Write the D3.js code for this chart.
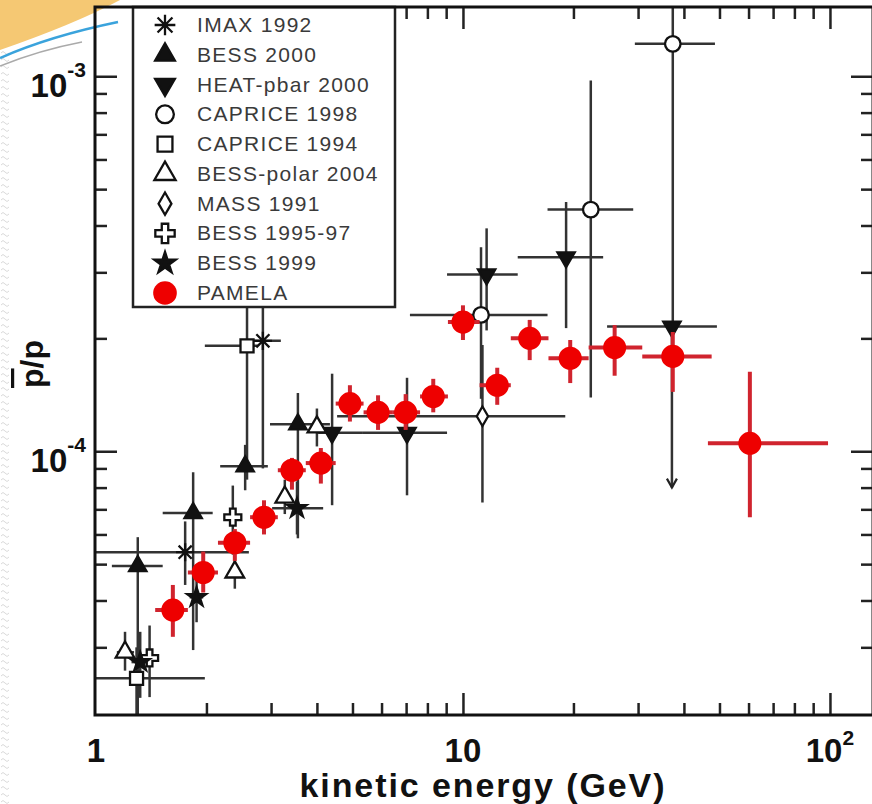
<!DOCTYPE html>
<html><head><meta charset="utf-8">
<script src="https://cdn.jsdelivr.net/npm/d3@7"></script>
<style>
html,body{margin:0;padding:0;background:#fff;}
svg{display:block;font-family:"Liberation Sans",Arial,Helvetica,sans-serif;}
</style></head><body>
<svg id="chart" width="872" height="804"></svg>
<script>
// each point: [E (GeV), pbar/p, E low, E high, ratio low, ratio high]
var imax = [[1.75,5.38e-5,1.0,2.61,4.4e-5,6.5e-5],[2.85,1.97e-4,2.61,3.19,9.0e-5,3.3e-4]];
var bess2000 = [[1.30,4.94e-5,1.105,1.52,1.5e-5,5.9e-5],[1.84,6.84e-5,1.52,2.08,2.95e-5,8.79e-5],
  [2.55,9.12e-5,2.18,2.94,7.87e-5,1.04e-4],[3.55,1.18e-4,2.98,4.34,5.86e-5,1.43e-4]];
var heat = [[4.40,1.12e-4,4.03,5.31,7.18e-5,1.61e-4],[7.04,1.12e-4,5.31,9.05,7.63e-5,1.57e-4],
  [11.6,2.96e-4,9.05,14.1,2.10e-4,3.93e-4],[19.1,3.29e-4,14.1,24.1,2.13e-4,4.62e-4]];
var heatLimit = [[37.1,2.15e-4,24.7,49.2,8.0e-5,2.15e-4]];   // drawn with a downward arrow
var caprice98 = [[11.2,2.31e-4,7.17,17.0,1.38e-4,3.50e-4],[22.3,4.41e-4,17.0,29.1,1.39e-4,9.75e-4],
  [37.3,1.22e-3,29.4,48.6,2.10e-4,2.5e-3]];
var caprice94 = [[1.29,2.48e-5,0.96,1.98,1.5e-5,3.0e-5],[2.58,1.91e-4,1.98,2.76,8.4e-5,3.3e-4]];
var bessPolar = [[1.20,2.91e-5,1.14,1.27,2.6e-5,3.3e-5],[2.39,4.76e-5,2.30,2.48,4.3e-5,5.3e-5],
  [3.27,7.54e-5,3.15,3.40,6.8e-5,8.4e-5],[4.00,1.16e-4,3.85,4.15,1.03e-4,1.30e-4]];
var mass91 = [[11.3,1.24e-4,4.54,19.0,7.3e-5,1.92e-4]];
var bess9597 = [[1.40,2.81e-5,1.33,1.48,2.21e-5,3.43e-5],[2.36,6.67e-5,2.25,2.47,5.3e-5,8.1e-5]];
var bess99 = [[1.32,2.74e-5,1.25,1.39,2.2e-5,3.3e-5],[1.88,4.08e-5,1.80,1.96,3.5e-5,4.8e-5],
  [3.53,7.05e-5,3.02,4.16,6.0e-5,8.3e-5]];
var pamela = [[1.62,3.77e-5,1.45,1.78,3.2e-5,4.4e-5],[1.96,4.75e-5,1.78,2.15,4.2e-5,5.4e-5],
  [2.39,5.7e-5,2.15,2.63,5.1e-5,6.2e-5],[2.87,6.67e-5,2.63,3.13,6.0e-5,7.4e-5],
  [3.42,8.9e-5,3.13,3.73,7.9e-5,9.6e-5],[4.10,9.3e-5,3.73,4.50,8.2e-5,1.02e-4],
  [4.92,1.34e-4,4.50,5.36,1.20e-4,1.50e-4],[5.87,1.27e-4,5.36,6.41,1.14e-4,1.41e-4],
  [6.98,1.27e-4,6.41,7.64,1.14e-4,1.42e-4],[8.30,1.40e-4,7.64,9.10,1.27e-4,1.56e-4],
  [10.0,2.21e-4,9.10,11.1,1.98e-4,2.45e-4],[12.4,1.50e-4,11.1,13.5,1.33e-4,1.67e-4],
  [15.2,2.00e-4,13.5,17.1,1.75e-4,2.24e-4],[19.6,1.77e-4,17.1,22.0,1.52e-4,1.98e-4],
  [25.9,1.89e-4,22.0,30.8,1.59e-4,2.17e-4],[37.3,1.79e-4,30.8,47.6,1.44e-4,2.08e-4],
  [60.5,1.05e-4,46.5,98.8,6.67e-5,1.63e-4]];

var legendLabels = ["IMAX 1992","BESS 2000","HEAT-pbar 2000","CAPRICE 1998","CAPRICE 1994",
  "BESS-polar 2004","MASS 1991","BESS 1995-97","BESS 1999","PAMELA"];
var xMajor = [1, 10, 100];
var xMinor = [2,3,4,5,6,7,8,9,20,30,40,50,60,70,80,90];
var yMajor = [1e-4, 1e-3];
var yMinor = [3e-5,4e-5,5e-5,6e-5,7e-5,8e-5,9e-5,2e-4,3e-4,4e-4,5e-4,6e-4,7e-4,8e-4,9e-4];

var pL = 95, pR = 873, pT = 7, pB = 715;
var x = d3.scaleLog().domain([0.994, 131]).range([pL, pR]);
var y = d3.scaleLog().domain([1.98e-5, 1.53e-3]).range([pB, pT]);

var svg = d3.select("#chart");

// slide decoration (top-left corner of the original slide)
var pat = svg.append("defs").append("pattern").attr("id", "squig")
  .attr("width", 10).attr("height", 7).attr("patternUnits", "userSpaceOnUse");
pat.append("path").attr("d", "M1,4 q2,-3 4,0 t4,0").attr("fill", "none")
  .attr("stroke", "#cfcfcf").attr("stroke-width", 0.8);
svg.append("rect").attr("x", 0).attr("y", 48).attr("width", 9).attr("height", 756).attr("fill", "url(#squig)");
svg.append("path").attr("d", "M0,0 L120,0 Q75,24 0,50 Z").attr("fill", "#f5c873");
svg.append("path").attr("d", "M0,58 Q50,36 118,22").attr("fill", "none").attr("stroke", "#3aa3dc").attr("stroke-width", 2.5);
svg.append("path").attr("d", "M0,66 Q40,50 82,42").attr("fill", "none").attr("stroke", "#aaa").attr("stroke-width", 1.5);

svg.append("clipPath").attr("id", "plotclip").append("rect")
  .attr("x", pL).attr("y", pT).attr("width", pR - pL).attr("height", pB - pT);

// axes with inward ticks on all four sides
function ticks(axis, at, size) {
  var g = svg.append("g").attr("transform", at)
    .call(axis.tickSize(size).tickFormat(""));
  g.select(".domain").remove();
  g.selectAll("line").attr("stroke", "#222").attr("stroke-width", 2.5);
}
ticks(d3.axisTop(x).tickValues(xMajor.filter(v => v > 1)), "translate(0," + pB + ")", 22);
ticks(d3.axisTop(x).tickValues(xMinor), "translate(0," + pB + ")", 12);
ticks(d3.axisBottom(x).tickValues(xMajor.filter(v => v > 1)), "translate(0," + pT + ")", 22);
ticks(d3.axisBottom(x).tickValues(xMinor), "translate(0," + pT + ")", 12);
ticks(d3.axisRight(y).tickValues(yMajor), "translate(" + pL + ",0)", 22);
ticks(d3.axisRight(y).tickValues(yMinor), "translate(" + pL + ",0)", 12);
ticks(d3.axisLeft(y).tickValues(yMajor), "translate(" + pR + ",0)", 22);
ticks(d3.axisLeft(y).tickValues(yMinor), "translate(" + pR + ",0)", 12);

// tick labels
var xl = svg.append("g").attr("font-weight", "bold").attr("font-size", 33).attr("fill", "#111")
  .attr("text-anchor", "middle");
xMajor.forEach(function(v) {
  var t = xl.append("text").attr("x", x(v)).attr("y", 762);
  var e = Math.round(Math.log10(v));
  if (e < 2) t.text(String(v));
  else { t.append("tspan").text("10"); t.append("tspan").attr("dy", -17).attr("font-size", 21).text(e); }
});
var yl = svg.append("g").attr("font-weight", "bold").attr("font-size", 33).attr("fill", "#111")
  .attr("text-anchor", "end");
yMajor.forEach(function(v) {
  var t = yl.append("text").attr("x", 86).attr("y", y(v) + 21);
  t.append("tspan").text("10");
  t.append("tspan").attr("dy", -20).attr("font-size", 21).text(Math.round(Math.log10(v)));
});

svg.append("text").attr("x", 482).attr("y", 797).attr("text-anchor", "middle")
  .attr("font-weight", "bold").attr("font-size", 34).attr("fill", "#111")
  .attr("textLength", 365).attr("lengthAdjust", "spacing").text("kinetic energy (GeV)");
var yt = svg.append("text").attr("transform", "translate(43,364) rotate(-90)")
  .attr("text-anchor", "middle").attr("font-weight", "bold").attr("font-size", 32).attr("fill", "#111");
yt.append("tspan").style("text-decoration", "overline").text("p");
yt.append("tspan").text("/p");

// marker shapes
var asterisk = {draw: function(ctx, size) {
  var r = Math.sqrt(size) / 2, d = r * 0.72;
  ctx.moveTo(-r, 0); ctx.lineTo(r, 0); ctx.moveTo(0, -r); ctx.lineTo(0, r);
  ctx.moveTo(-d, -d); ctx.lineTo(d, d); ctx.moveTo(-d, d); ctx.lineTo(d, -d);
}};
var series = [
  {data: imax, type: asterisk, size: 330, fill: "none", rot: 0},
  {data: bess2000, type: d3.symbolTriangle, size: 130, fill: "#111", rot: 0},
  {data: heat, type: d3.symbolTriangle, size: 130, fill: "#111", rot: 180},
  {data: caprice98, type: d3.symbolCircle, size: 190, fill: "#fff", rot: 0},
  {data: caprice94, type: d3.symbolSquare, size: 170, fill: "#fff", rot: 0},
  {data: bessPolar, type: d3.symbolTriangle, size: 150, fill: "#fff", rot: 0},
  {data: mass91, type: d3.symbolDiamond, size: 110, fill: "#fff", rot: 0},
  {data: bess9597, type: d3.symbolCross, size: 160, fill: "#fff", rot: 0},
  {data: bess99, type: d3.symbolStar, size: 110, fill: "#111", rot: 0},
  {data: pamela, type: d3.symbolCircle, size: 420, fill: "#ee0000", rot: 0, red: true}
];

var plot = svg.append("g").attr("clip-path", "url(#plotclip)");

function drawBars(g, data, color, width) {
  var b = g.append("g").attr("stroke", color).attr("stroke-width", width);
  b.selectAll(null).data(data).join("line")
    .attr("x1", d => x(d[2])).attr("x2", d => x(d[3])).attr("y1", d => y(d[1])).attr("y2", d => y(d[1]));
  b.selectAll(null).data(data).join("line")
    .attr("x1", d => x(d[0])).attr("x2", d => x(d[0])).attr("y1", d => y(d[4])).attr("y2", d => y(d[5]));
}
function drawMarks(g, s, data) {
  g.selectAll(null).data(data).join("path")
    .attr("transform", d => "translate(" + x(d[0]) + "," + y(d[1]) + ") rotate(" + s.rot + ")")
    .attr("d", d3.symbol().type(s.type).size(s.size))
    .attr("fill", s.fill)
    .attr("stroke", s.red ? "none" : "#111")
    .attr("stroke-width", 2.3);
}

// black data sets first, PAMELA on top
var black = plot.append("g");
series.filter(s => !s.red).forEach(s => drawBars(black, s.data, "#333", 2.5));
drawBars(black, heatLimit, "#333", 2.5);
black.selectAll(null).data(heatLimit).join("path")
  .attr("d", d => "M" + (x(d[0]) - 5) + "," + (y(d[4]) - 9) + "L" + x(d[0]) + "," + y(d[4]) +
    "L" + (x(d[0]) + 5) + "," + (y(d[4]) - 9))
  .attr("fill", "none").attr("stroke", "#222").attr("stroke-width", 2.2);
series.filter(s => !s.red).forEach(s => drawMarks(black, s, s.data));
drawMarks(black, series[2], heatLimit);

var red = plot.append("g");
drawBars(red, pamela, "#d0242e", 4);
drawMarks(red, series[9], pamela);

// legend
var lg = svg.append("g");
lg.append("rect").attr("x", 133).attr("y", pT).attr("width", 262).attr("height", 300)
  .attr("fill", "#fff").attr("stroke", "#222").attr("stroke-width", 2.5);
var rowY = d3.scaleLinear().domain([0, legendLabels.length - 1]).range([25, 293]);
legendLabels.forEach(function(label, i) {
  var s = series[i];
  lg.append("path").attr("transform", "translate(165," + rowY(i) + ") rotate(" + s.rot + ")")
    .attr("d", d3.symbol().type(s.type).size(s.red ? 440 : s.size * 1.3)())
    .attr("fill", s.fill).attr("stroke", s.red ? "none" : "#111").attr("stroke-width", 2.3);
  lg.append("text").attr("x", 197).attr("y", rowY(i) + 7).attr("font-size", 21)
    .attr("letter-spacing", 1.3).attr("fill", "#3a3a3a").text(label);
});

// frame
svg.append("rect").attr("x", pL).attr("y", pT).attr("width", pR - pL).attr("height", pB - pT)
  .attr("fill", "none").attr("stroke", "#111").attr("stroke-width", 3);
</script>
</body></html>
